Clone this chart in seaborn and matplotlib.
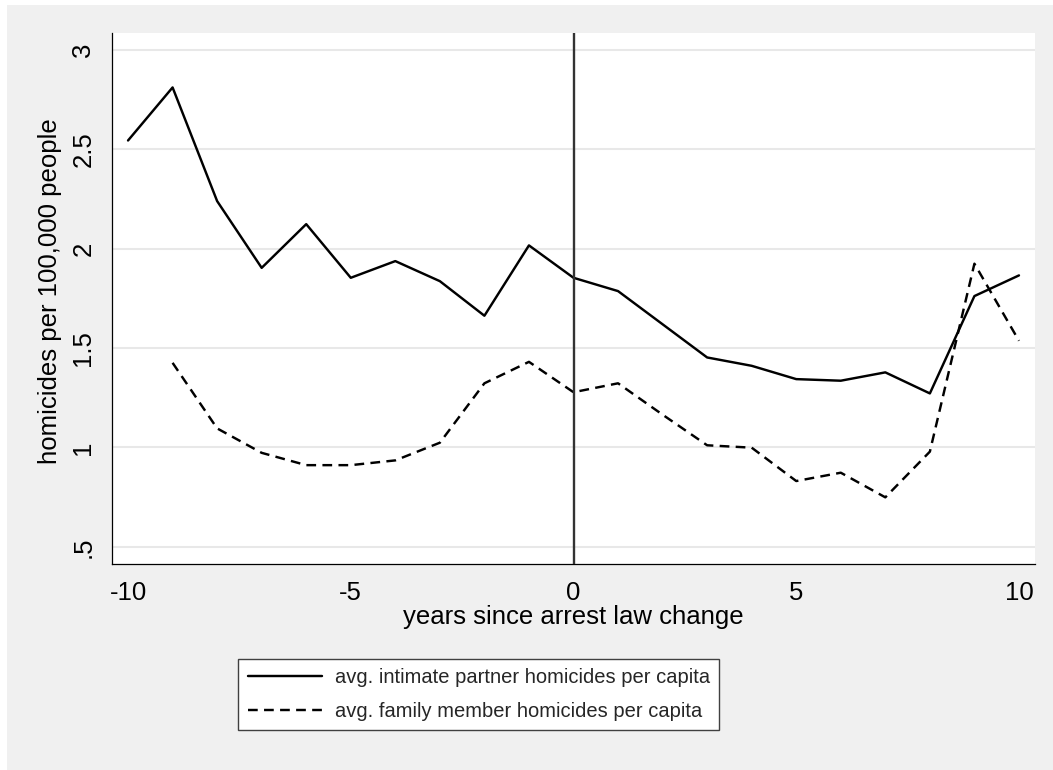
import matplotlib
matplotlib.use('Agg')
import matplotlib.pyplot as plt
from matplotlib.patches import Rectangle
import numpy as np
import pandas as pd
import seaborn as sns

# values
years = [-10, -9, -8, -7, -6, -5, -4, -3, -2, -1, 0, 1, 2, 3, 4, 5, 6, 7, 8, 9, 10]
intimate_partner = [2.545, 2.812, 2.240, 1.904, 2.124, 1.854, 1.938, 1.837, 1.663, 2.017,
                    1.854, 1.787, 1.620, 1.453, 1.411, 1.344, 1.336, 1.378, 1.272, 1.762, 1.866]
family_years = [-9, -8, -7, -6, -5, -4, -3, -2, -1, 0, 1, 2, 3, 4, 5, 6, 7, 8, 9, 10]
family_member = [1.426, 1.096, 0.973, 0.911, 0.911, 0.935, 1.024, 1.323, 1.431, 1.278,
                 1.323, 1.165, 1.011, 0.999, 0.831, 0.873, 0.749, 0.979, 1.925, 1.537]

label_ip = 'avg. intimate partner homicides per capita'
label_fm = 'avg. family member homicides per capita'

x_ticks = [-10, -5, 0, 5, 10]
y_ticks = [0.5, 1, 1.5, 2, 2.5, 3]
y_tick_labels = ['.5', '1', '1.5', '2', '2.5', '3']

df = pd.concat([
    pd.DataFrame({'years': years, 'rate': intimate_partner, 'series': label_ip}),
    pd.DataFrame({'years': family_years, 'rate': family_member, 'series': label_fm}),
], ignore_index=True)

sns.set_theme(style='white')
plt.rcParams['font.family'] = ['Liberation Sans', 'DejaVu Sans']
plt.rcParams['axes.unicode_minus'] = False

W, H = 1053, 770
fig = plt.figure(figsize=(W / 100, H / 100), dpi=100)
fig.patch.set_facecolor('white')
# light grey graph region (Stata look)
fig.patches.append(Rectangle((7 / W, 0), 1 - 7 / W, 1 - 5 / H, transform=fig.transFigure,
                             facecolor='#f0f0f0', edgecolor='none', zorder=-10))

ax = fig.add_axes([112 / W, 1 - 564.3 / H, (1035 - 112) / W, (564.3 - 33) / H])
ax.set_facecolor('white')

sns.lineplot(data=df, x='years', y='rate', style='series', color='black',
             dashes={label_ip: '', label_fm: (4, 2.6)}, linewidth=1.75,
             legend=False, ax=ax)

ax.axvline(0, color='#333333', linewidth=1.7, zorder=3)

ax.set_xlim(-10.36, 10.36)
ax.set_ylim(0.412, 3.086)
ax.set_xticks(x_ticks)
ax.set_yticks(y_ticks, labels=y_tick_labels)
ax.yaxis.grid(True, color='#e8e8e8', linewidth=1.5)
ax.xaxis.grid(False)
ax.set_axisbelow(True)

for side in ['top', 'right']:
    ax.spines[side].set_visible(False)
for side in ['left', 'bottom']:
    ax.spines[side].set_color('black')
    ax.spines[side].set_linewidth(0.9)

ax.tick_params(axis='both', direction='out', length=7, width=1.1, color='#404040',
               labelsize=18.5, labelcolor='black')
ax.tick_params(axis='x', pad=5)
ax.tick_params(axis='y', pad=5)
plt.setp(ax.get_yticklabels(), rotation=90, va='center', ha='right')

ax.set_xlabel('years since arrest law change', fontsize=18.5, labelpad=0, color='black')
ax.set_ylabel('homicides per 100,000 people', fontsize=18.5, color='black')
ax.yaxis.set_label_coords((62 - 112) / (1035 - 112), (564.3 - 291) / (564.3 - 33))

handles = ax.get_lines()[:2]
leg = fig.legend(handles, [label_ip, label_fm], loc='center',
                 bbox_to_anchor=(478.9 / W, 1 - 694.4 / H), fontsize=14.5,
                 handlelength=3.7, handletextpad=0.65, labelspacing=0.75,
                 borderpad=0.45, fancybox=False, framealpha=1,
                 facecolor='white', edgecolor='#404040')
leg.get_frame().set_linewidth(1.0)

fig.savefig('out.png', dpi=100)
